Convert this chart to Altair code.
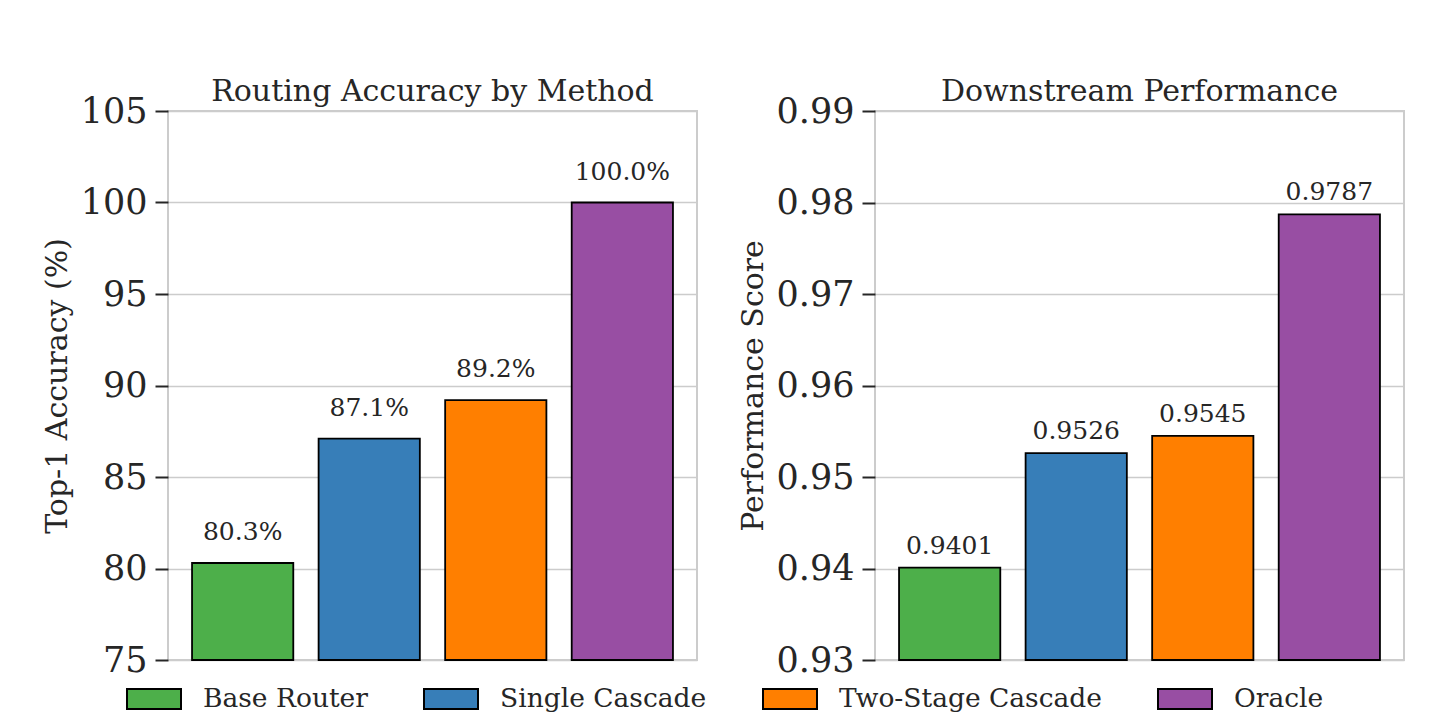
import altair as alt
import pandas as pd

methods = ["Base Router", "Single Cascade", "Two-Stage Cascade", "Oracle"]
colors = ["#4daf4a", "#377eb8", "#ff7f00", "#984ea3"]
accuracy = [80.3, 87.1, 89.2, 100.0]
performance = [0.9401, 0.9526, 0.9545, 0.9787]

acc_ticks = [75, 80, 85, 90, 95, 100, 105]
perf_ticks = [0.93, 0.94, 0.95, 0.96, 0.97, 0.98, 0.99]

FONT = "DejaVu Serif"
TXT = "#262626"

df_acc = pd.DataFrame({"method": methods, "value": accuracy,
                       "label": [f"{v:.1f}%" for v in accuracy]})
df_perf = pd.DataFrame({"method": methods, "value": performance,
                        "label": [f"{v:.4f}" for v in performance]})

color = alt.Color("method:N", scale=alt.Scale(domain=methods, range=colors),
                  legend=alt.Legend(
                      title=None, orient="none", direction="horizontal",
                      legendX=-42, legendY=560,
                      symbolType="M-1,-0.37H1V0.37H-1Z", symbolSize=2916,
                      symbolStrokeColor="black", symbolStrokeWidth=2,
                      symbolOpacity=1,
                      labelFont=FONT, labelFontSize=26.5, labelColor=TXT,
                      labelOffset=21, columnPadding=52, labelLimit=400))

def panel(df, title, ytitle, domain, ticks, dy, fmt):
    x = alt.X("method:N", sort=methods, axis=None,
              scale=alt.Scale(paddingInner=0.2, paddingOuter=0.19))
    y = alt.Y("value:Q", title=ytitle,
              scale=alt.Scale(domain=domain, nice=False, zero=False),
              axis=alt.Axis(values=ticks, format=fmt, domain=False,
                            tickSize=13, tickWidth=2, tickColor=TXT,
                            labelFont=FONT, labelFontSize=35, labelColor=TXT,
                            labelPadding=8,
                            titleFont=FONT, titleFontSize=30, titleFontWeight="normal",
                            titleColor=TXT, titlePadding=8,
                            grid=True, gridColor="#cccccc", gridWidth=1.6))
    base = alt.Chart(df)
    bars = base.mark_bar(stroke="black", strokeWidth=1.8, opacity=1).encode(
        x=x, y=y, y2=alt.datum(domain[0]), color=color)
    text = base.mark_text(font=FONT, fontSize=25, color=TXT, baseline="middle", dy=dy).encode(
        x=x, y=alt.Y("value:Q"), text="label:N")
    return alt.layer(bars, text).properties(
        width=529, height=549,
        title=alt.TitleParams(title, font=FONT, fontSize=30, fontWeight="normal",
                              color=TXT, offset=6, dy=19))

left = panel(df_acc, "Routing Accuracy by Method", "Top-1 Accuracy (%)",
             [75, 105], acc_ticks, -31, "d")
right = panel(df_perf, "Downstream Performance", "Performance Score",
              [0.93, 0.99], perf_ticks, -22, ".2f")

chart = alt.hconcat(left, right, spacing=39).configure_view(
    stroke="#cccccc", strokeWidth=2).properties(
    padding={"left": 33, "top": 68, "right": 5, "bottom": 5})

chart.save("out.html", embed_options={"renderer": "svg", "actions": False})
